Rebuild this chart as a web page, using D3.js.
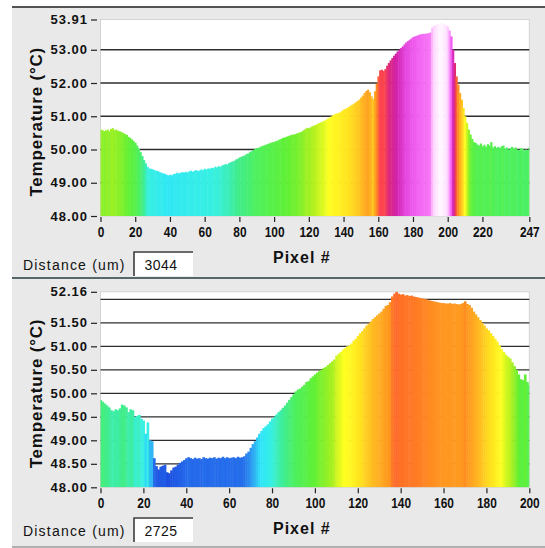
<!DOCTYPE html>
<html>
<head>
<meta charset="utf-8">
<script src="https://cdn.jsdelivr.net/npm/d3@7"></script>
<style>
  body { margin: 0; background: #fff; }
  svg { display: block; font-family: 'Liberation Sans', Arial, sans-serif; }
</style>
</head>
<body>
<div id="chart"></div>
<script>
'use strict'

////////////////////////////////////
//////////// data //////////////////
////////////////////////////////////

// temperature per pixel, upper profile (pixel 0..247)
const topTemps = [
    50.60, 50.58, 50.55, 50.57, 50.60, 50.55, 50.62, 50.64, 50.58, 50.60,
    50.56, 50.55, 50.52, 50.50, 50.46, 50.44, 50.38, 50.35, 50.30, 50.25,
    50.20, 50.12, 50.02, 49.92, 49.80, 49.68, 49.58, 49.48, 49.43, 49.42,
    49.40, 49.38, 49.36, 49.35, 49.32, 49.30, 49.28, 49.27, 49.24, 49.22,
    49.24, 49.22, 49.26, 49.27, 49.30, 49.28, 49.30, 49.32, 49.30, 49.33,
    49.31, 49.34, 49.36, 49.33, 49.36, 49.38, 49.35, 49.37, 49.40, 49.38,
    49.42, 49.40, 49.43, 49.42, 49.45, 49.44, 49.48, 49.46, 49.50, 49.48,
    49.52, 49.54, 49.56, 49.55, 49.59, 49.62, 49.64, 49.66, 49.70, 49.72,
    49.76, 49.78, 49.80, 49.82, 49.86, 49.88, 49.92, 49.95, 49.98, 50.02,
    50.04, 50.05, 50.08, 50.10, 50.12, 50.14, 50.16, 50.18, 50.20, 50.22,
    50.23, 50.25, 50.27, 50.30, 50.32, 50.35, 50.36, 50.38, 50.40, 50.42,
    50.44, 50.45, 50.46, 50.48, 50.50, 50.52, 50.54, 50.58, 50.62, 50.65,
    50.64, 50.67, 50.70, 50.72, 50.74, 50.77, 50.80, 50.82, 50.84, 50.87,
    50.90, 50.93, 50.96, 51.00, 51.04, 51.06, 51.08, 51.10, 51.12, 51.16,
    51.20, 51.22, 51.25, 51.28, 51.32, 51.35, 51.38, 51.42, 51.46, 51.50,
    51.56, 51.62, 51.70, 51.76, 51.80, 51.72, 51.60, 51.52, 51.75, 51.98,
    52.20, 52.38, 52.40, 52.36, 52.42, 52.52, 52.60, 52.68, 52.75, 52.82,
    52.88, 52.95, 53.00, 53.05, 53.10, 53.16, 53.22, 53.26, 53.30, 53.34,
    53.38, 53.40, 53.42, 53.44, 53.46, 53.47, 53.48, 53.48, 53.49, 53.50,
    53.52, 53.66, 53.72, 53.74, 53.76, 53.78, 53.80, 53.79, 53.76, 53.75,
    53.70, 53.58, 53.40, 53.00, 52.60, 52.20, 51.95, 51.70, 51.50, 51.25,
    51.00, 50.80, 50.60, 50.45, 50.32, 50.22, 50.20, 50.15, 50.12, 50.18,
    50.10, 50.14, 50.08, 50.16, 50.12, 50.22, 50.06, 50.10, 50.05, 50.08,
    50.04, 50.10, 50.12, 50.02, 50.06, 50.00, 50.04, 50.08, 50.02, 50.06,
    50.00, 49.98, 50.04, 50.02, 49.96, 50.00, 49.98, 50.06
]

// temperature per pixel, lower profile (pixel 0..200)
const bottomTemps = [
    49.86, 49.82, 49.78, 49.74, 49.70, 49.64, 49.62, 49.66, 49.64, 49.68,
    49.76, 49.74, 49.70, 49.60, 49.66, 49.64, 49.50, 49.52, 49.54, 49.46,
    49.42, 49.14, 49.38, 49.00, 48.98, 48.62, 48.45, 48.38, 48.44, 48.46,
    48.48, 48.32, 48.30, 48.36, 48.42, 48.44, 48.48, 48.52, 48.55, 48.58,
    48.62, 48.64, 48.62, 48.60, 48.63, 48.61, 48.62, 48.60, 48.64, 48.62,
    48.61, 48.63, 48.62, 48.64, 48.61, 48.63, 48.62, 48.65, 48.62, 48.64,
    48.62, 48.63, 48.64, 48.62, 48.65, 48.63, 48.64, 48.66, 48.72, 48.76,
    48.84, 48.92, 48.98, 49.06, 49.14, 49.20, 49.26, 49.30, 49.34, 49.40,
    49.46, 49.50, 49.55, 49.60, 49.64, 49.69, 49.74, 49.80, 49.86, 49.92,
    49.98, 50.04, 50.08, 50.10, 50.14, 50.18, 50.24, 50.26, 50.32, 50.36,
    50.40, 50.44, 50.48, 50.50, 50.54, 50.56, 50.60, 50.64, 50.68, 50.72,
    50.80, 50.84, 50.88, 50.93, 50.96, 51.00, 51.02, 51.06, 51.12, 51.16,
    51.22, 51.28, 51.32, 51.38, 51.44, 51.48, 51.53, 51.58, 51.62, 51.66,
    51.70, 51.74, 51.80, 51.86, 51.88, 51.94, 52.06, 52.12, 52.16, 52.12,
    52.10, 52.11, 52.08, 52.09, 52.07, 52.08, 52.06, 52.05, 52.04, 52.03,
    52.02, 52.01, 52.00, 51.98, 51.97, 51.96, 51.95, 51.94, 51.93, 51.92,
    51.92, 51.91, 51.91, 51.92, 51.90, 51.91, 51.90, 51.89, 51.90, 51.92,
    51.96, 51.90, 51.88, 51.82, 51.74, 51.68, 51.62, 51.56, 51.50, 51.44,
    51.38, 51.34, 51.28, 51.22, 51.16, 51.10, 51.02, 50.94, 50.88, 50.82,
    50.78, 50.74, 50.66, 50.58, 50.50, 50.40, 50.30, 50.28, 50.40, 50.24,
    50.18
]

const topXTicks = [0, 20, 40, 60, 80, 100, 120, 140, 160, 180, 200, 220, 247]
const bottomXTicks = [0, 20, 40, 60, 80, 100, 120, 140, 160, 180, 200]
const topYTicks = [48, 49, 50, 51, 52, 53, 53.91]
const bottomYTicks = [48, 48.5, 49, 49.5, 50, 50.5, 51, 51.5, 52.16]
const topGridLines = [49, 50, 51, 52, 53]
const bottomGridLines = [48.5, 49, 49.5, 50, 50.5, 51, 51.5, 52]
const distances = ['3044', '2725']

const yTitle = 'Temperature (°C)'
const xTitle = 'Pixel #'
const distanceLabel = 'Distance (um)'

// colour ramp used for the bars (temperature -> colour)
const tempStops = [48.3, 48.6, 48.9, 49.2, 49.45, 49.7, 50.0, 50.4, 50.7, 50.95, 51.3,
    51.6, 51.9, 52.1, 52.35, 52.6, 52.9, 53.15, 53.45, 53.65, 53.78]
const tempColors = ['#1c4ee0', '#2467ea', '#30a4f2', '#30e6f8', '#38f0e0', '#40ec92', '#4cf062',
    '#62f034', '#aef020', '#ffff22', '#ffe020', '#ffb822', '#ff9a20', '#ff7226', '#ff4848',
    '#e02a78', '#d222a8', '#e040d8', '#f262f2', '#ffb4ff', '#fff4ff']

////////////////////////////////////
//////////// svg setup /////////////
////////////////////////////////////

const svgWidth = 545
const svgHeight = 548

const svg = d3.select('#chart')
    .append('svg')
    .attr('width', svgWidth)
    .attr('height', svgHeight)

const color = d3.scaleLinear()
    .domain(tempStops)
    .range(tempColors)
    .clamp(true)

const plotLeft = 100.5
const plotRight = 529.3

function drawPanel(p) {
    const g = svg.append('g')

    // grey window background
    g.append('rect')
        .attr('x', 12).attr('y', p.y0)
        .attr('width', svgWidth - 12).attr('height', p.h)
        .attr('fill', '#e9e9e9')

    const x = d3.scaleLinear()
        .domain([0, p.temps.length - 1])
        .range([plotLeft, plotRight])

    const y = d3.scaleLinear()
        .domain([48, p.yMax])
        .range([p.plotBottom, p.plotTop])

    // plot area
    g.append('rect')
        .attr('x', plotLeft).attr('y', p.plotTop)
        .attr('width', plotRight - plotLeft).attr('height', p.plotBottom - p.plotTop)
        .attr('fill', '#fff')
        .attr('stroke', '#d4d4d4')
        .attr('stroke-width', 1)

    // grid
    g.selectAll('.grid')
        .data(p.grid)
        .join('line')
        .attr('x1', plotLeft).attr('x2', plotRight)
        .attr('y1', d => y(d)).attr('y2', d => y(d))
        .attr('stroke', '#2e2e2e')
        .attr('stroke-width', 1.3)

    g.append('clipPath').attr('id', p.id)
        .append('rect')
        .attr('x', plotLeft).attr('y', p.plotTop)
        .attr('width', plotRight - plotLeft).attr('height', p.plotBottom - p.plotTop)

    const bw = x(1) - x(0)

    g.append('g')
        .attr('clip-path', `url(#${p.id})`)
        .selectAll('rect')
        .data(p.temps)
        .join('rect')
        .attr('x', (d, i) => x(i) - bw / 2)
        .attr('width', bw + 0.5)
        .attr('y', d => y(d))
        .attr('height', d => y(48) - y(d))
        .attr('fill', d => color(d))

    // y axis
    const yAxis = d3.axisLeft(y)
        .tickValues(p.yTicks)
        .tickFormat(d3.format('.2f'))
        .tickSize(6)
        .tickPadding(3)

    const ya = g.append('g')
        .attr('transform', 'translate(97,0)')
        .call(yAxis)
    ya.select('.domain').remove()
    ya.selectAll('line').attr('stroke', '#222').attr('stroke-width', 1.2)
    ya.selectAll('text')
        .attr('fill', '#111')
        .attr('font-size', '13px')
        .attr('font-weight', 'bold')
        .attr('letter-spacing', '1px')
        .attr('font-family', "'Liberation Sans', Arial, sans-serif")

    // x axis
    const xAxis = d3.axisBottom(x)
        .tickValues(p.xTicks)
        .tickSize(5)
        .tickPadding(5)

    const xa = g.append('g')
        .attr('transform', `translate(0,${p.plotBottom + 1})`)
        .call(xAxis)
    xa.select('.domain').remove()
    xa.selectAll('line').attr('stroke', '#222').attr('stroke-width', 1.2)
    xa.selectAll('text')
        .attr('fill', '#111')
        .attr('font-size', '14px')
        .attr('font-weight', 'bold')
        .attr('transform', 'scale(0.85,1)')
        .attr('font-family', "'Liberation Sans', Arial, sans-serif")

    // titles
    g.append('text')
        .attr('transform', `translate(42,${(p.plotTop + p.plotBottom) / 2 + 4}) rotate(-90)`)
        .attr('text-anchor', 'middle')
        .attr('font-size', '17px')
        .attr('font-weight', 'bold')
        .attr('letter-spacing', '0.8px')
        .attr('fill', '#111')
        .text(yTitle)

    g.append('text')
        .attr('x', 273)
        .attr('y', p.plotBottom + 46.5)
        .attr('font-size', '16px')
        .attr('font-weight', 'bold')
        .attr('letter-spacing', '1px')
        .attr('fill', '#111')
        .text(xTitle)

    // distance readout
    g.append('text')
        .attr('x', 23)
        .attr('y', p.distY)
        .attr('font-size', '14px')
        .attr('letter-spacing', '1.2px')
        .attr('fill', '#111')
        .text(distanceLabel)

    g.append('rect')
        .attr('x', 133).attr('y', p.distY - 19)
        .attr('width', 60).attr('height', 25)
        .attr('fill', '#fff')

    g.append('path')
        .attr('d', `M134,${p.distY + 6} V${p.distY - 18} H193`)
        .attr('fill', 'none')
        .attr('stroke', '#3a3a3a')
        .attr('stroke-width', 1.6)

    g.append('text')
        .attr('x', 161)
        .attr('y', p.distY)
        .attr('text-anchor', 'middle')
        .attr('font-size', '14px')
        .attr('letter-spacing', '0.5px')
        .attr('fill', '#111')
        .text(p.distance)
}

drawPanel({
    id: 'clip-top', y0: 7, h: 271, temps: topTemps, yMax: 53.91,
    plotTop: 19.5, plotBottom: 216, distY: 270,
    xTicks: topXTicks, yTicks: topYTicks, grid: topGridLines, distance: distances[0]
})

drawPanel({
    id: 'clip-bottom', y0: 278, h: 269, temps: bottomTemps, yMax: 52.16,
    plotTop: 291.8, plotBottom: 487.3, distY: 536,
    xTicks: bottomXTicks, yTicks: bottomYTicks, grid: bottomGridLines, distance: distances[1]
})

// window frame lines
svg.append('line')
    .attr('x1', 12).attr('x2', svgWidth).attr('y1', 7).attr('y2', 7)
    .attr('stroke', '#1e1e1e').attr('stroke-width', 1.5)

svg.append('line')
    .attr('x1', 12).attr('x2', svgWidth).attr('y1', 278).attr('y2', 278)
    .attr('stroke', '#56686a').attr('stroke-width', 2)

svg.append('line')
    .attr('x1', 12).attr('x2', svgWidth).attr('y1', 547).attr('y2', 547)
    .attr('stroke', '#9a9a9a').attr('stroke-width', 1.5)
</script>
</body>
</html>
